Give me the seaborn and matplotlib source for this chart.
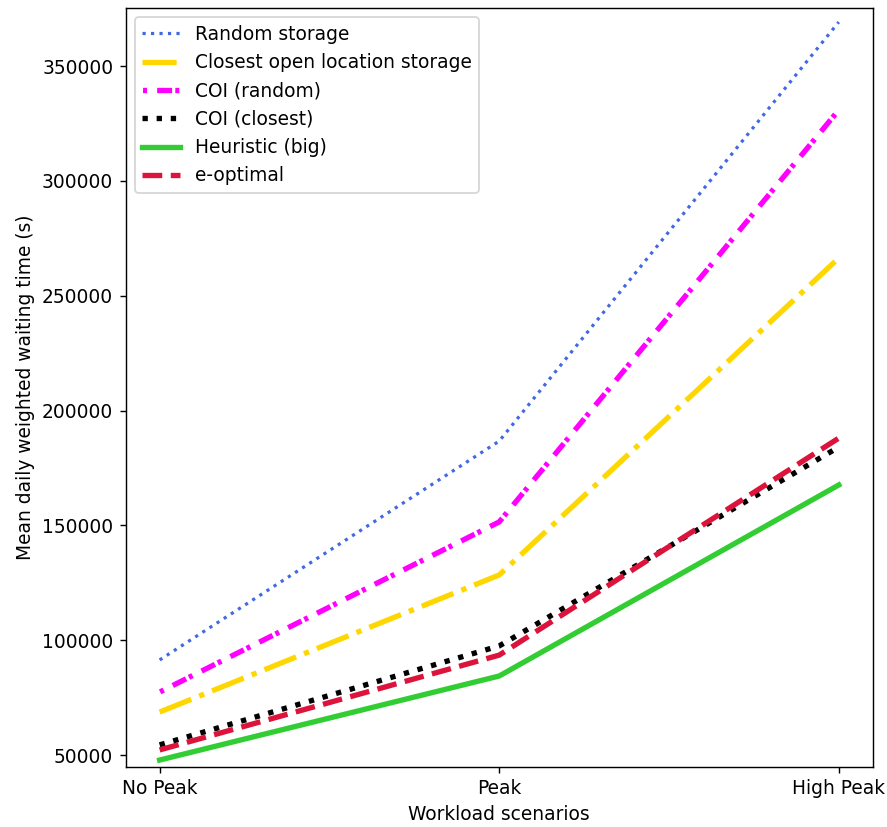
import matplotlib as mpl
import matplotlib.pyplot as plt
import pandas as pd
import seaborn as sns

mpl.use("Agg")

SCENARIOS = ["No Peak", "Peak", "High Peak"]

RANDOM_STORAGE = [91400, 186700, 369200]
CLOSEST_OPEN = [68700, 128400, 266400]
COI_RANDOM = [77400, 151500, 330900]
COI_CLOSEST = [54400, 97500, 184100]
HEURISTIC_BIG = [47800, 84400, 167600]
E_OPTIMAL = [52200, 93500, 188000]

METHODS = [
    "Random storage",
    "Closest open location storage",
    "COI (random)",
    "COI (closest)",
    "Heuristic (big)",
    "e-optimal",
]
VALUES = [RANDOM_STORAGE, CLOSEST_OPEN, COI_RANDOM, COI_CLOSEST, HEURISTIC_BIG, E_OPTIMAL]

STYLES = {
    "Random storage": dict(color="royalblue", linestyle=":", linewidth=1.8),
    "Closest open location storage": dict(color="gold", linestyle="-.", linewidth=3),
    "COI (random)": dict(color="magenta", linestyle=(3.3, (2.8, 0.6, 0.75, 1.9)), linewidth=3),
    "COI (closest)": dict(color="black", linestyle=":", linewidth=3),
    "Heuristic (big)": dict(color="limegreen", linestyle="-", linewidth=3),
    "e-optimal": dict(color="crimson", linestyle="--", linewidth=3),
}

mpl.rcParams.update({"font.family": "DejaVu Sans", "font.size": 10.5})

df = pd.DataFrame(
    [
        {"scenario": s, "method": m, "value": v}
        for m, vals in zip(METHODS, VALUES)
        for s, v in zip(SCENARIOS, vals)
    ]
)

dpi = 128
fig = plt.figure(figsize=(887 / dpi, 827 / dpi), dpi=dpi)
ax = fig.add_axes([0.1417, 0.0729, 0.9839 - 0.1417, 0.9903 - 0.0729])

for m in METHODS:
    sub = df[df["method"] == m]
    sns.lineplot(data=sub, x="scenario", y="value", ax=ax, label=m, **STYLES[m])

ax.set_xlim(-0.1, 2.1)
ax.set_ylim(44900, 375300)
ax.set_yticks([50000, 100000, 150000, 200000, 250000, 300000, 350000])
ax.set_xlabel("Workload scenarios")
ax.set_ylabel("Mean daily weighted waiting time (s)")
ax.legend(loc="upper left")

fig.savefig("out.png", dpi=dpi)
